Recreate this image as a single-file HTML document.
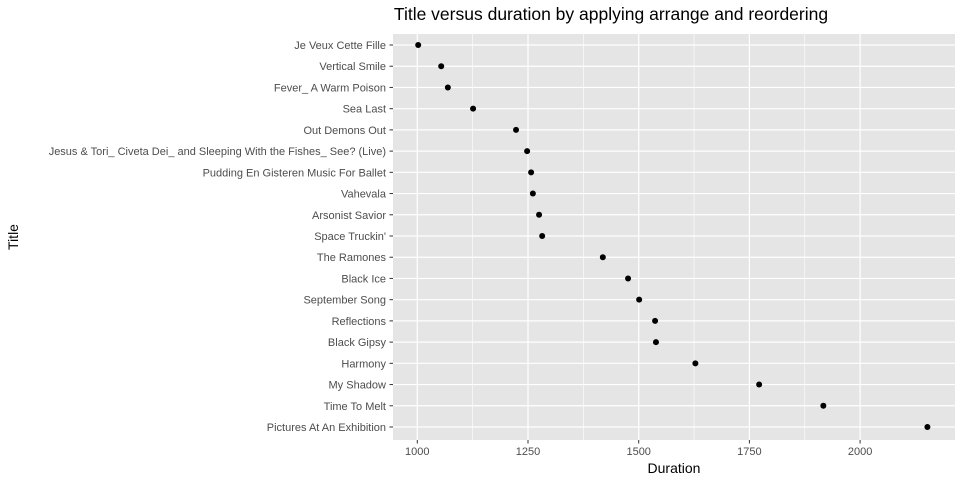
<!DOCTYPE html>
<html><head><meta charset="utf-8"><style>
body{margin:0;background:#fff;font-family:"Liberation Sans",sans-serif}
</style></head><body>
<svg id="chart" width="960" height="480" xmlns="http://www.w3.org/2000/svg">
<text x="611" y="20" font-size="17.5" text-anchor="middle" fill="#000">Title versus duration by applying arrange and reordering</text>
<rect x="393" y="34" width="562" height="406" fill="#e5e5e5"/>
<g id="grid"></g><g id="ticks"></g><g id="points"></g>
<text x="674" y="473" font-size="14" text-anchor="middle">Duration</text>
<text transform="translate(18,237) rotate(-90)" font-size="14" text-anchor="middle">Title</text>
</svg>
<script>
const titles=["Je Veux Cette Fille","Vertical Smile","Fever_ A Warm Poison","Sea Last","Out Demons Out","Jesus & Tori_ Civeta Dei_ and Sleeping With the Fishes_ See? (Live)","Pudding En Gisteren Music For Ballet","Vahevala","Arsonist Savior","Space Truckin'","The Ramones","Black Ice","September Song","Reflections","Black Gipsy","Harmony","My Shadow","Time To Melt","Pictures At An Exhibition"];
const durations=[1002,1054,1069,1126,1223,1248,1257,1261,1275,1282,1419,1476,1501,1537,1539,1628,1772,1917,2152];
const xTicks=[1000,1250,1500,1750,2000];
const NS="http://www.w3.org/2000/svg";
const xs=v=>417.3+(v-1000)*110.7/250;
const ys=i=>45+i*(427-45)/(titles.length-1);
const grid=document.getElementById('grid'),ticks=document.getElementById('ticks'),pts=document.getElementById('points');
function mk(tag,attrs,parent){const e=document.createElementNS(NS,tag);for(const k in attrs)e.setAttribute(k,attrs[k]);parent.appendChild(e);return e;}
for(let i=0;i<xTicks.length-1;i++){
  const m=mk('line',{x1:xs((xTicks[i]+xTicks[i+1])/2),x2:xs((xTicks[i]+xTicks[i+1])/2),y1:34,y2:440,stroke:'#fff','stroke-width':0.6},grid);
  
  
}
xTicks.forEach(t=>{
  const g=mk('line',{x1:xs(t),x2:xs(t),y1:34,y2:440,stroke:'#fff','stroke-width':1.2},grid);
  
  
  mk('line',{x1:xs(t),x2:xs(t),y1:440,y2:443.5,stroke:'#333','stroke-width':1},ticks);
  const l=mk('text',{x:xs(t),y:455,'font-size':11,'text-anchor':'middle',fill:'#4d4d4d'},ticks);
  l.textContent=t;
  
  
});
titles.forEach((t,i)=>{
  const g=mk('line',{x1:393,x2:955,y1:ys(i),y2:ys(i),stroke:'#fff','stroke-width':1.2},grid);
  
  
  mk('line',{x1:389.5,x2:393,y1:ys(i),y2:ys(i),stroke:'#333','stroke-width':1},ticks);
  const l=mk('text',{x:386,y:ys(i)+4,'font-size':11,'text-anchor':'end',fill:'#4d4d4d'},ticks);
  l.textContent=t;
  
  
  const c=mk('circle',{cx:xs(durations[i]),cy:ys(i),r:3,fill:'#000'},pts);
  
  
});
</script>
</body></html>
